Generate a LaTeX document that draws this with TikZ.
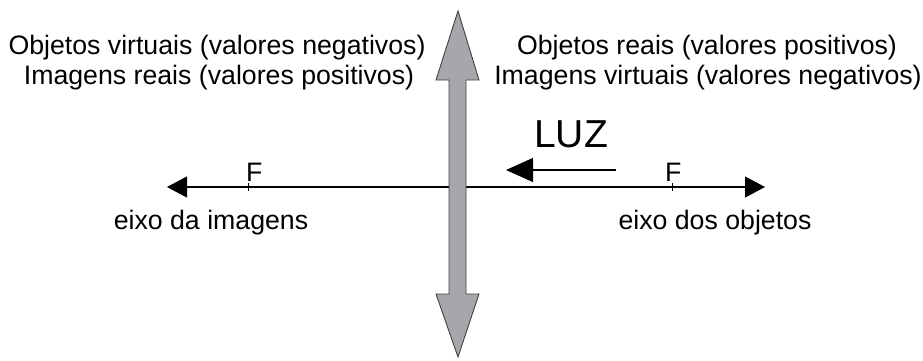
\documentclass[tikz,border=0pt]{standalone}
\usepackage{fontspec}
\setmainfont{Liberation Sans}
\usetikzlibrary{arrows.meta}

\definecolor{lensgray}{RGB}{166,167,171}

\begin{document}
\begin{tikzpicture}[x=1pt,y=-1pt,
  txt/.style={font=\fontsize{26.7}{30}\selectfont,inner sep=0pt,anchor=base},
  axis/.style={line width=1.1pt,{Triangle[length=20pt,width=21pt]}-{Triangle[length=20pt,width=21pt]}},
  ray/.style={line width=1.1pt,-{Triangle[length=27pt,width=24pt]}},
  lens/.style={fill=lensgray,draw=black!75,line width=0.9pt,line join=miter}]
  \useasboundingbox (0,0) rectangle (923,360);

  % texts
  \node[txt] (lv) at (217,54) {Objetos virtuais (valores negativos)};
  \node[txt] (lr) at (219,84) {Imagens reais (valores positivos)};
  \node[txt] (rr) at (707,54) {Objetos reais (valores positivos)};
  \node[txt] (rv) at (708,84) {Imagens virtuais (valores negativos)};
  \node[txt] (img) at (211,229) {eixo da imagens};
  \node[txt] (obj) at (715,229) {eixo dos objetos};

  % axis and focal points
  \coordinate (left) at (167,187);
  \coordinate (right) at (765,187);
  \coordinate (f1) at (248,187);
  \coordinate (f2) at (672,187);
  \draw[axis] (left) -- (right);
  \draw[line width=0.8pt] ([yshift=-4pt]f1) -- ([yshift=4pt]f1);
  \draw[line width=0.8pt] ([yshift=-4pt]f2) -- ([yshift=4pt]f2);
  \node[txt,anchor=base west] (fl) at (246,181) {F};
  \node[txt,anchor=base west] (fr) at (665,181) {F};

  % light
  \node[txt,font=\fontsize{39}{40}\selectfont] (luz) at (571,147) {LUZ};
  \coordinate (lstart) at (616,170);
  \coordinate (lend) at (506,170);
  \draw[ray] (lstart) -- (lend);

  % lens
  \draw[lens] (458,11) -- (479,80) -- (466,80) -- (466,294) -- (479,294)
    -- (458,357) -- (436,294) -- (449,294) -- (449,80) -- (436,80) -- cycle;
\end{tikzpicture}
\end{document}
